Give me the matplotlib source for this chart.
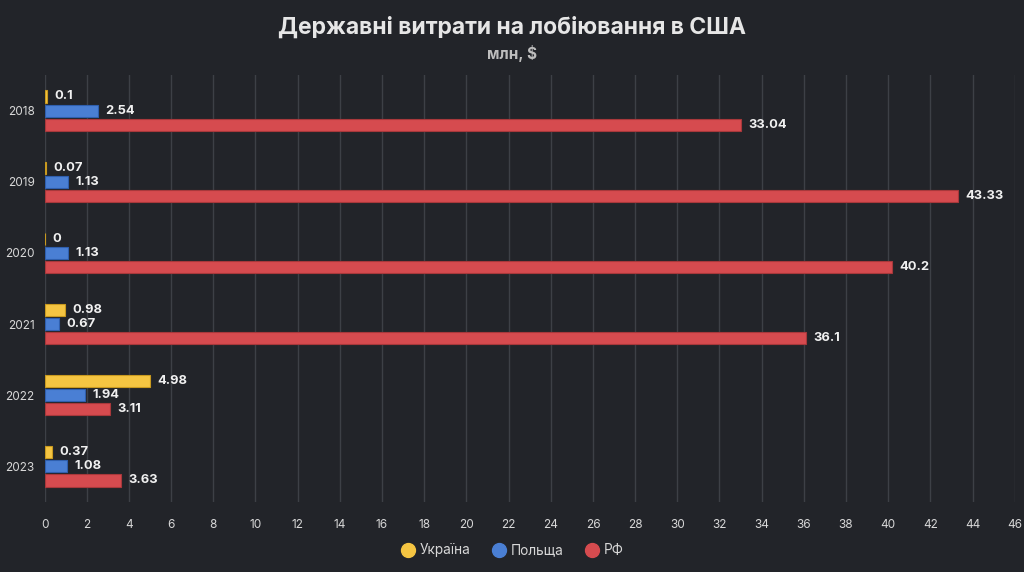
import matplotlib
matplotlib.use("Agg")
import matplotlib.pyplot as plt
import numpy as np

plt.rcParams['font.family'] = ['Inter', 'DejaVu Sans']

years = ['2018', '2019', '2020', '2021', '2022', '2023']
ukraine = [0.1, 0.07, 0, 0.98, 4.98, 0.37]
poland = [2.54, 1.13, 1.13, 0.67, 1.94, 1.08]
russia = [33.04, 43.33, 40.2, 36.1, 3.11, 3.63]
series_names = ['Україна', 'Польща', 'РФ']
colors = ['#f5c542', '#4a7fd4', '#d64b4f']
edges = ['#c99a1f', '#2f5fae', '#a8383b']

bg = '#222429'
fig = plt.figure(figsize=(10.24, 5.72), dpi=100, facecolor=bg)
ax = fig.add_axes([0.0435, 0.1224, 0.9475, 0.7465])
ax.set_facecolor(bg)

y = np.arange(len(years))
h = 0.17
step = 0.198
for i, (vals, name) in enumerate(zip([ukraine, poland, russia], series_names)):
    pos = y + (i - 1) * step
    ax.barh(pos, vals, height=h, color=colors[i], edgecolor=edges[i],
            linewidth=0.8, label=name, zorder=3)
    for p, v in zip(pos, vals):
        ax.text(v + 0.35, p, f'{v:g}', va='center', ha='left',
                color='#f0f0f0', fontsize=9.3, fontweight='bold', zorder=4)

ax.set_ylim(len(years) - 0.5, -0.5)
ax.set_xlim(0, 46)
ax.set_xticks(np.arange(0, 47, 2))
ax.set_yticks(y)
ax.set_yticklabels(years)
ax.tick_params(axis='both', length=0, colors='#d8d8d8', labelsize=8.5)
ax.tick_params(axis='x', pad=12)
ax.tick_params(axis='y', pad=7)
ax.grid(axis='x', color='#3d4046', linewidth=1, zorder=0)
for s in ax.spines.values():
    s.set_visible(False)

fig.text(0.5, 0.952, 'Державні витрати на лобіювання в США', ha='center', va='center',
         color='#e6e6e6', fontsize=16.5, fontweight='bold')
fig.text(0.5, 0.907, 'млн, $', ha='center', va='center',
         color='#bdbdbd', fontsize=11, fontweight='bold')

handles = [plt.Line2D([], [], marker='o', linestyle='', markersize=10,
                      markerfacecolor=c, markeredgecolor=c) for c in colors]
fig.legend(handles, series_names, loc='center', bbox_to_anchor=(0.5, 0.038),
           ncol=3, frameon=False, labelcolor='#d8d8d8', fontsize=9.8,
           handletextpad=0.25, columnspacing=1.5, handlelength=1.2)

fig.savefig('out.png', dpi=100, facecolor=bg)
